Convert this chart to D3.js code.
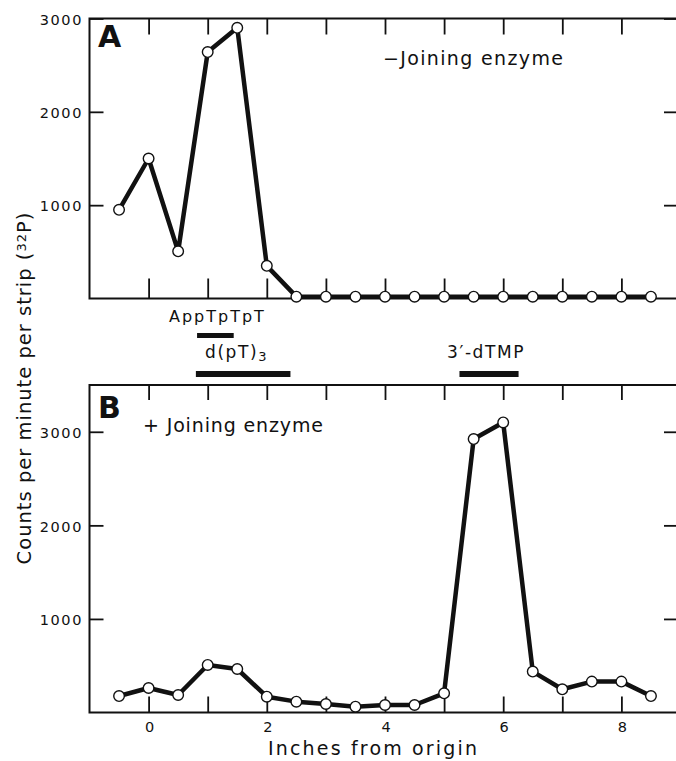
<!DOCTYPE html>
<html>
<head>
<meta charset="utf-8">
<script src="https://cdn.jsdelivr.net/npm/d3@7"></script>
<style>
  html, body { margin: 0; padding: 0; background: #fff; }
  svg { display: block; }
  text { font-family: "DejaVu Sans", sans-serif; fill: #111; }
</style>
</head>
<body>
<svg id="chart" width="676" height="761"></svg>
<script>
// ---- data ----
const positions = [-0.5, 0, 0.5, 1, 1.5, 2, 2.5, 3, 3.5, 4, 4.5, 5, 5.5, 6, 6.5, 7, 7.5, 8, 8.5];
const countsMinus = [950, 1500, 505, 2640, 2900, 350, 20, 20, 20, 20, 20, 20, 20, 20, 20, 20, 20, 20, 20];
const countsPlus  = [176, 262, 187, 508, 465, 169, 116, 91, 62, 80, 80, 205, 2922, 3100, 437, 248, 330, 330, 176];
const xTickValues = [0, 1, 2, 3, 4, 5, 6, 7, 8];
const xTickLabels = [0, 2, 4, 6, 8];
const yTicksA = [1000, 2000, 3000];
const yTicksB = [1000, 2000, 3000];
const markersTop = [{ label: "AppTpTpT", from: 0.82, to: 1.44 }];
const markersMid = [{ label: "d(pT)", sub: "3", from: 0.80, to: 2.40 },
                    { label: "3\u2032-dTMP", sub: "", from: 5.26, to: 6.26 }];

// ---- layout ----
const svg = d3.select("#chart");
const x = d3.scaleLinear().domain([-1, 9]).range([89.5, 680.5]);
const yA = d3.scaleLinear().domain([0, 3000]).range([298.5, 18.5]);
const yB = d3.scaleLinear().domain([0, 3500]).range([712.5, 385]);

function panel(y, values, yTicks, tickTopLen, tickBotLen, letter, letterY, note, noteX, noteY, noteLen) {
  const g = svg.append("g");
  const [y0, y1] = y.range();
  const xl = x.range()[0], xr = x.range()[1];
  g.append("rect").attr("x", xl).attr("y", y1).attr("width", xr - xl).attr("height", y0 - y1)
    .attr("fill", "none").attr("stroke", "#111").attr("stroke-width", 2);
  const topAxis = d3.axisBottom(x).tickValues(xTickValues).tickSize(tickTopLen).tickFormat("");
  g.append("g").attr("transform", `translate(0,${y1})`).call(topAxis)
    .call(s => s.select(".domain").remove())
    .selectAll("line").attr("stroke", "#111").attr("stroke-width", 1.8);
  const botAxis = d3.axisTop(x).tickValues(xTickValues).tickSize(tickBotLen).tickFormat("");
  g.append("g").attr("transform", `translate(0,${y0})`).call(botAxis)
    .call(s => s.select(".domain").remove())
    .selectAll("line").attr("stroke", "#111").attr("stroke-width", 1.8);
  const leftAxis = d3.axisRight(y).tickValues(yTicks).tickSize(14).tickFormat("");
  g.append("g").attr("transform", `translate(${xl},0)`).call(leftAxis)
    .call(s => s.select(".domain").remove())
    .selectAll("line").attr("stroke", "#111").attr("stroke-width", 1.8);
  const rightAxis = d3.axisLeft(y).tickValues(yTicks).tickSize(12).tickFormat("");
  g.append("g").attr("transform", `translate(676,0)`).call(rightAxis)
    .call(s => s.select(".domain").remove())
    .selectAll("line").attr("stroke", "#111").attr("stroke-width", 1.8);
  g.selectAll("text.ylab").data(yTicks).join("text").attr("class", "ylab")
    .attr("x", 83).attr("y", d => y(d) + 1).attr("dy", "0.36em")
    .attr("text-anchor", "end").attr("font-size", 14.5).attr("letter-spacing", 1.6)
    .text(d => d);
  const line = d3.line().x((d, i) => x(positions[i])).y(d => y(d));
  g.append("path").datum(values).attr("d", line).attr("fill", "none")
    .attr("stroke", "#111").attr("stroke-width", 4.5).attr("stroke-linejoin", "round");
  g.selectAll("circle").data(values).join("circle")
    .attr("cx", (d, i) => x(positions[i])).attr("cy", d => y(d)).attr("r", 5.3)
    .attr("fill", "#fff").attr("stroke", "#111").attr("stroke-width", 1.4);
  g.append("text").attr("x", 98).attr("y", letterY).attr("font-size", 30)
    .attr("font-weight", "bold").text(letter);
  g.append("text").attr("x", noteX).attr("y", noteY).attr("font-size", 19)
    .attr("textLength", noteLen).attr("lengthAdjust", "spacing").text(note);
}

panel(yA, countsMinus, yTicksA, 16, 20, "A", 47, "\u2212Joining enzyme", 383, 65, 180);
panel(yB, countsPlus, yTicksB, 15, 16, "B", 418, "+ Joining enzyme", 143, 432, 180);

svg.selectAll("text.xlab").data(xTickLabels).join("text").attr("class", "xlab")
  .attr("x", d => x(d) + 1).attr("y", 732).attr("text-anchor", "middle")
  .attr("font-size", 14.5).text(d => d);

svg.append("text").attr("x", 268).attr("y", 755).attr("font-size", 19)
  .attr("textLength", 209).attr("lengthAdjust", "spacing").text("Inches from origin");

const yt = svg.append("text").attr("transform", "translate(31,388) rotate(-90)")
  .attr("text-anchor", "middle").attr("font-size", 19.5).attr("letter-spacing", 1);
yt.append("tspan").text("Counts per minute per strip (");
yt.append("tspan").attr("baseline-shift", "40%").attr("font-size", 13).text("32");
yt.append("tspan").text("P)");

svg.selectAll("rect.mtop").data(markersTop).join("rect").attr("class", "mtop")
  .attr("x", d => x(d.from)).attr("width", d => x(d.to) - x(d.from))
  .attr("y", 333).attr("height", 5).attr("fill", "#111");
svg.selectAll("text.mtop").data(markersTop).join("text").attr("class", "mtop")
  .attr("x", d => (x(d.from) + x(d.to)) / 2 + 2).attr("y", 322).attr("text-anchor", "middle")
  .attr("font-size", 16).attr("letter-spacing", 2).text(d => d.label);

svg.selectAll("rect.mmid").data(markersMid).join("rect").attr("class", "mmid")
  .attr("x", d => x(d.from)).attr("width", d => x(d.to) - x(d.from))
  .attr("y", 371).attr("height", 6).attr("fill", "#111");
const mt = svg.selectAll("text.mmid").data(markersMid).join("text").attr("class", "mmid")
  .attr("x", (d, i) => i === 0 ? 205 : 447).attr("y", 358)
  .attr("font-size", 17).attr("letter-spacing", 1.6);
mt.append("tspan").text(d => d.label);
mt.append("tspan").attr("baseline-shift", "-25%").attr("font-size", 13).text(d => d.sub);
</script>
</body>
</html>
